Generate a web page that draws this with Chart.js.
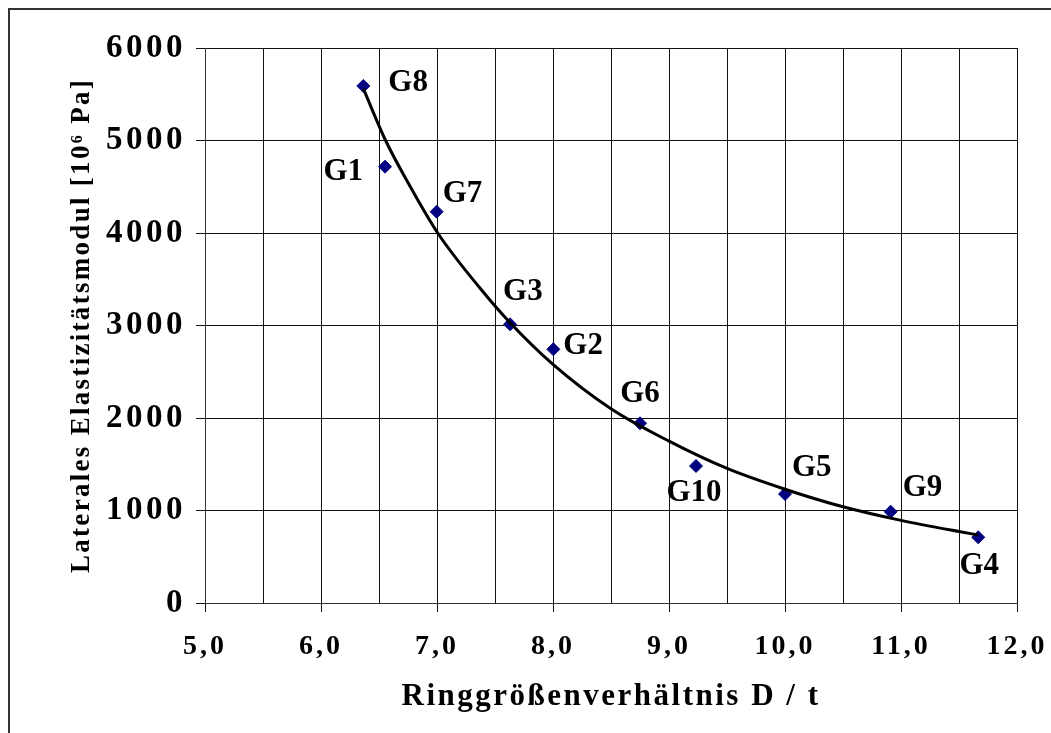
<!DOCTYPE html>
<html><head><meta charset="utf-8">
<script src="https://cdn.jsdelivr.net/npm/chart.js@4.4.0/dist/chart.umd.min.js"></script>
<style>
html,body{margin:0;padding:0;background:#fff;overflow:hidden}
#wrap{position:relative;width:1051px;height:733px;background:#fff}
#frame{position:absolute;left:8px;top:8px;width:1100px;height:800px;border:2px solid #333;box-sizing:border-box;pointer-events:none}
canvas{position:absolute;left:0;top:0}
</style></head><body>
<div id="wrap"><canvas id="c" width="1051" height="733"></canvas><div id="frame"></div></div>
<script>
// ---- data ----
const sampleNames = ['G8','G1','G7','G3','G2','G6','G10','G5','G9','G4'];
const ratioDt     = [6.365, 6.552, 6.997, 7.63, 8.003, 8.75, 9.233, 10.0, 10.911, 11.666];
const modulus     = [5590, 4717, 4230, 3013, 2743, 1943, 1481, 1178, 987, 710];

// points
const trendX = [6.365, 6.557, 6.752, 7.006, 7.37, 7.63, 8.0, 8.5, 9.0, 9.5, 10.0, 10.5, 11.0, 11.5, 11.666];
const trendY = [5560, 5000, 4540, 4000, 3405, 3030, 2580, 2100, 1750, 1455, 1230, 1040, 893, 772, 735];

const xTickLabels = {5:'5,0',6:'6,0',7:'7,0',8:'8,0',9:'9,0',10:'10,0',11:'11,0',12:'12,0'};
const yTickLabels = {0:'0',1000:'1000',2000:'2000',3000:'3000',4000:'4000',5000:'5000',6000:'6000'};

const xTitle = 'Ringgrößenverhältnis D / t';
const yTitle = 'Laterales Elastizitätsmodul [10⁶ Pa]';

// ---- label placement (style) ----
const labelOffsets = [
  [25, -3, 'left'],   // G8
  [-22, 5, 'right'],  // G1
  [6, -18, 'left'],   // G7
  [-7, -32, 'left'],  // G3
  [10, -3, 'left'],   // G2
  [0, -29, 'center'], // G6
  [-2, 27, 'center'], // G10
  [7, -26, 'left'],   // G5
  [12, -24, 'left'],  // G9
  [1, 29, 'center']   // G4
];

const FONT = '"Liberation Serif", "Times New Roman", serif';
const spacingStyle = {
  x: { labels: '3px', title: '2.5px' },
  y: { labels: '3.5px', title: '2.3px' }
};

const spacingPlugin = {
  id: 'spacing',
  afterLayout(chart){
    Object.keys(spacingStyle).forEach(id => {
      const s = chart.scales[id];
      if (!s || s._spWrapped) return;
      const sp = spacingStyle[id];
      const dl = s.drawLabels, dt = s.drawTitle;
      s.drawLabels = function(a){ const c = this.ctx, p = c.letterSpacing; c.letterSpacing = sp.labels; dl.call(this, a); c.letterSpacing = p; };
      s.drawTitle = function(a){ const c = this.ctx, p = c.letterSpacing; c.letterSpacing = sp.title; dt.call(this, a); c.letterSpacing = p; };
      s._spWrapped = true;
    });
  }
};

const labelPlugin = {
  id: 'pointLabels',
  afterDatasetsDraw(chart){
    const meta = chart.getDatasetMeta(1);
    const ctx = chart.ctx;
    ctx.save();
    ctx.letterSpacing = '0px';
    ctx.font = 'bold 31px ' + FONT;
    ctx.fillStyle = '#000';
    ctx.textBaseline = 'middle';
    meta.data.forEach((el, i) => {
      const o = labelOffsets[i];
      ctx.textAlign = o[2];
      ctx.fillText(sampleNames[i], el.x + o[0], el.y + o[1]);
    });
    ctx.restore();
  }
};

new Chart(document.getElementById('c'), {
  type: 'scatter',
  data: {
    datasets: [
      {
        label: 'Trend',
        data: trendX.map((x, i) => ({x, y: trendY[i]})),
        showLine: true,
        borderColor: '#000',
        borderWidth: 3,
        pointRadius: 0,
        cubicInterpolationMode: 'monotone',
        fill: false,
        order: 0
      },
      {
        label: 'Proben',
        data: ratioDt.map((x, i) => ({x, y: modulus[i]})),
        showLine: false,
        pointStyle: 'rectRot',
        pointRadius: 6.5,
        backgroundColor: '#000080',
        borderColor: '#000080',
        borderWidth: 1,
        order: 1
      }
    ]
  },
  options: {
    responsive: false,
    animation: false,
    devicePixelRatio: 1,
    layout: { padding: { left: 0, top: 48, right: 34, bottom: 0 } },
    plugins: { legend: { display: false }, tooltip: { enabled: false } },
    scales: {
      x: {
        type: 'linear',
        min: 5, max: 12,
        afterFit(s){ s.height = 130; s.paddingLeft = 0; s.paddingRight = 0; },
        grid: {
          color: '#111', lineWidth: 1, tickLength: 9,
          tickColor: (c) => (c.tick && Number.isInteger(c.tick.value)) ? '#111' : 'rgba(0,0,0,0)'
        },
        border: { display: true, color: '#333', width: 1 },
        ticks: {
          stepSize: 0.5, autoSkip: false, maxRotation: 0, padding: 18,
          color: '#000',
          font: { family: FONT, size: 28, weight: 'bold' },
          callback: (v) => xTickLabels[v] !== undefined ? xTickLabels[v] : ''
        },
        title: {
          display: true, text: xTitle, color: '#000',
          font: { family: FONT, size: 31, weight: 'bold' },
          padding: { top: 0, bottom: 17 }
        }
      },
      y: {
        type: 'linear',
        min: 0, max: 6000,
        afterFit(s){ s.width = 205; s.paddingTop = 0; s.paddingBottom = 0; },
        grid: { color: '#111', lineWidth: 1, tickLength: 9, tickColor: '#111' },
        border: { display: true, color: '#333', width: 1 },
        ticks: {
          stepSize: 1000, padding: 10, color: '#000',
          font: { family: FONT, size: 33, weight: 'bold' },
          callback: (v) => yTickLabels[v] !== undefined ? yTickLabels[v] : ''
        },
        title: {
          display: true, text: yTitle, color: '#000',
          font: { family: FONT, size: 27, weight: 'bold' },
          padding: { top: 66, bottom: 0 }
        }
      }
    }
  },
  plugins: [spacingPlugin, labelPlugin]
});
</script>
</body></html>
